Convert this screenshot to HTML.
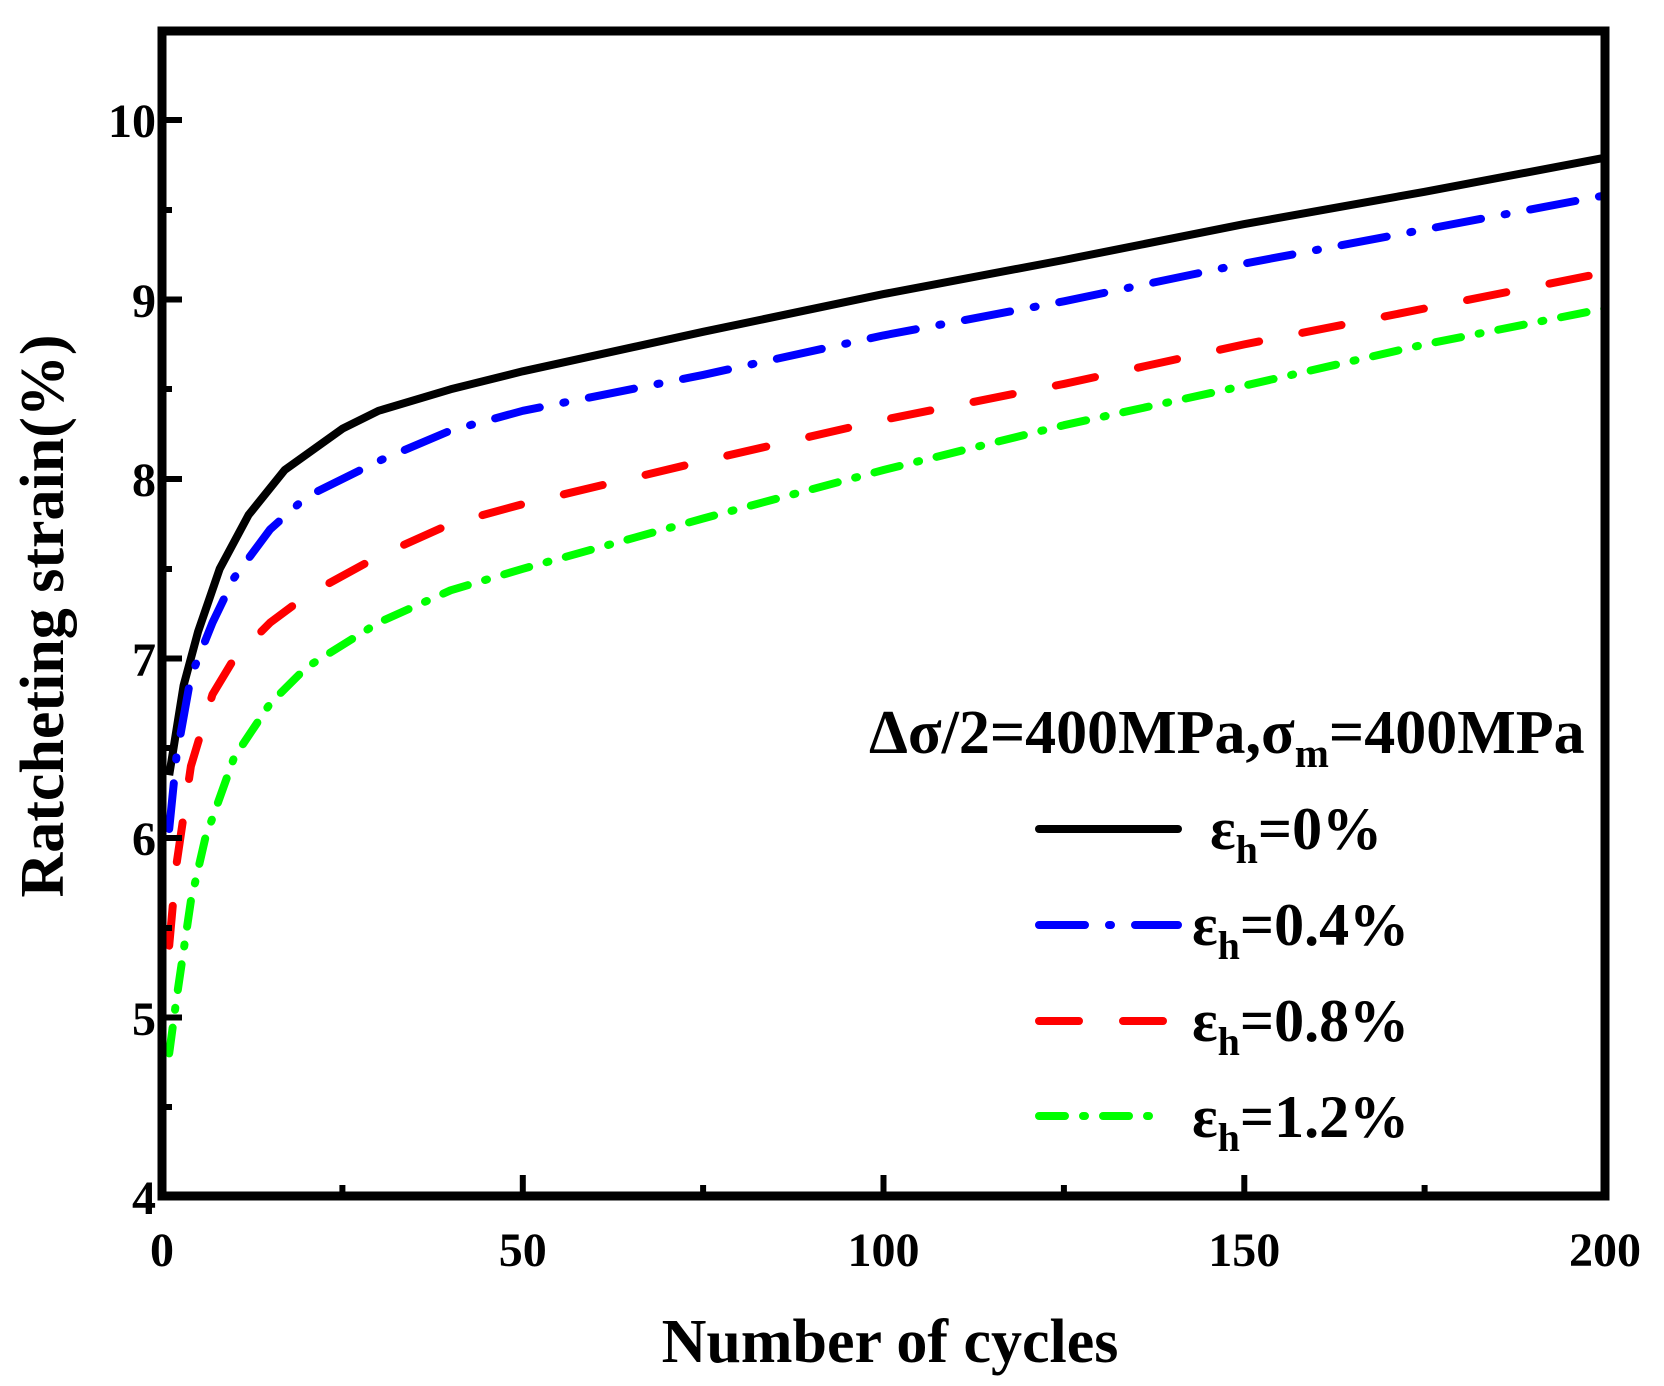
<!DOCTYPE html>
<html><head><meta charset="utf-8"><style>
html,body{margin:0;padding:0;background:#fff;}
svg text{font-family:"Liberation Serif",serif;font-weight:bold;fill:#000;}
</style></head><body>
<svg width="1664" height="1381" viewBox="0 0 1664 1381" xmlns="http://www.w3.org/2000/svg">
<defs><clipPath id="c"><rect x="162" y="31" width="1443" height="1165"/></clipPath></defs>
<g clip-path="url(#c)" fill="none" stroke-width="8" stroke-linejoin="round">
<polyline stroke="#000" points="169.2,775.2 176.4,730.3 183.6,685.4 198.1,631.6 219.7,568.8 248.6,514.9 284.7,470 342.4,428.7 378.5,410.8 450.6,389.3 522.8,371.3 703.1,331.8 883.5,294.1 1063.9,260 1244.3,224.1 1424.6,191.8 1605,157.7"/>
<polyline stroke="#0000ff" stroke-linecap="round" stroke-dasharray="46 24 2 24" points="169.2,829 176.4,757.2 190.9,676.5 212.5,622.6 234.2,577.7 270.2,529.3 306.3,496.9 378.5,461.1 450.6,430.5 522.8,410.8 703.1,374.9 883.5,335.4 1063.9,301.3 1244.3,263.6 1424.6,229.5 1605,195.4"/>
<polyline stroke="#ff0000" stroke-linecap="round" stroke-dasharray="40 44" points="169.2,945.7 176.4,864.9 190.9,766.2 212.5,694.4 234.2,658.5 270.2,622.6 306.3,595.7 378.5,556.2 450.6,523.9 522.8,504.1 703.1,461.1 883.5,419.8 1063.9,383.9 1244.3,344.4 1424.6,308.5 1605,272.6"/>
<polyline stroke="#00ff00" stroke-linecap="round" stroke-dasharray="26 18 2 18" points="169.2,1053.4 176.4,999.6 190.9,900.8 205.3,838 234.2,757.2 270.2,703.4 306.3,667.5 378.5,622.6 450.6,590.3 522.8,568.8 703.1,518.5 883.5,470 1063.9,425.2 1244.3,385.7 1424.6,344.4 1605,308.5"/>
</g>
<g stroke="#000" stroke-width="6">
<line x1="162" y1="1197" x2="182" y2="1197"/><line x1="162" y1="1017.5" x2="182" y2="1017.5"/><line x1="162" y1="838" x2="182" y2="838"/><line x1="162" y1="658.5" x2="182" y2="658.5"/><line x1="162" y1="479" x2="182" y2="479"/><line x1="162" y1="299.5" x2="182" y2="299.5"/><line x1="162" y1="120" x2="182" y2="120"/>
<line x1="162" y1="1107" x2="172" y2="1107"/><line x1="162" y1="928" x2="172" y2="928"/><line x1="162" y1="748" x2="172" y2="748"/><line x1="162" y1="569" x2="172" y2="569"/><line x1="162" y1="389" x2="172" y2="389"/><line x1="162" y1="210" x2="172" y2="210"/>
<line x1="522.8" y1="1195" x2="522.8" y2="1175"/><line x1="883.5" y1="1195" x2="883.5" y2="1175"/><line x1="1244.3" y1="1195" x2="1244.3" y2="1175"/>
<line x1="342.4" y1="1195" x2="342.4" y2="1185"/><line x1="703.1" y1="1195" x2="703.1" y2="1185"/><line x1="1063.9" y1="1195" x2="1063.9" y2="1185"/><line x1="1424.6" y1="1195" x2="1424.6" y2="1185"/>
</g>
<rect x="162" y="31" width="1443" height="1165" fill="none" stroke="#000" stroke-width="9"/>
<g font-size="48" text-anchor="end">
<text x="156" y="1214">4</text><text x="156" y="1035">5</text><text x="156" y="855">6</text><text x="156" y="676">7</text><text x="156" y="496">8</text><text x="156" y="317">9</text><text x="156" y="137">10</text>
</g>
<g font-size="48" text-anchor="middle">
<text x="162" y="1266">0</text><text x="522.8" y="1266">50</text><text x="883.5" y="1266">100</text><text x="1244.3" y="1266">150</text><text x="1605" y="1266">200</text>
</g>
<text x="890" y="1362" font-size="62" text-anchor="middle">Number of cycles</text>
<text transform="translate(63,616) rotate(-90)" font-size="62" text-anchor="middle">Ratcheting strain(%)</text>
<text x="869" y="753" font-size="62">Δσ/2=400MPa,σ<tspan font-size="41" dy="14">m</tspan><tspan dy="-14">=400MPa</tspan></text>
<g stroke-width="8" stroke-linecap="round">
<line x1="1039" y1="829" x2="1178" y2="829" stroke="#000"/>
<line x1="1039" y1="925" x2="1178" y2="925" stroke="#0000ff" stroke-dasharray="46 24 2 24"/>
<line x1="1039" y1="1021" x2="1166" y2="1021" stroke="#ff0000" stroke-dasharray="40 44"/>
<line x1="1039" y1="1116" x2="1160" y2="1116" stroke="#00ff00" stroke-dasharray="26 18 2 18"/>
</g>
<g font-size="60">
<text x="1210" y="849">ε<tspan font-size="40" dy="14">h</tspan><tspan dy="-14">=0%</tspan></text>
<text x="1192" y="945">ε<tspan font-size="40" dy="14">h</tspan><tspan dy="-14">=0.4%</tspan></text>
<text x="1192" y="1041">ε<tspan font-size="40" dy="14">h</tspan><tspan dy="-14">=0.8%</tspan></text>
<text x="1192" y="1137">ε<tspan font-size="40" dy="14">h</tspan><tspan dy="-14">=1.2%</tspan></text>
</g>
</svg>
</body></html>
